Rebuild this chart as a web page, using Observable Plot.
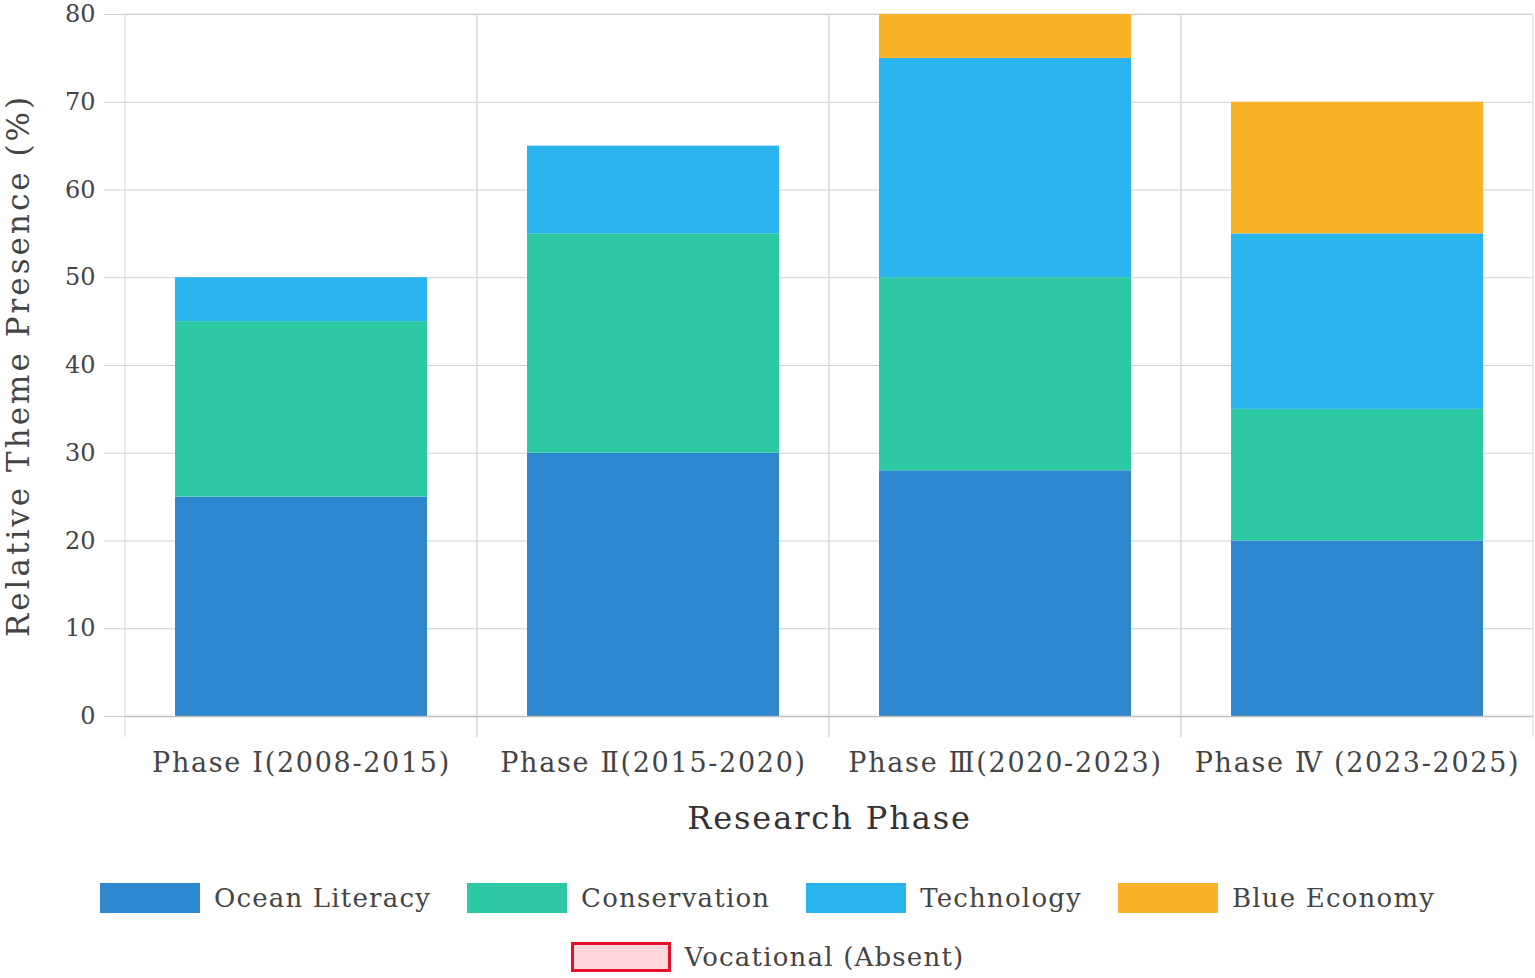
<!DOCTYPE html>
<html>
<head>
<meta charset="utf-8">
<script src="https://cdn.jsdelivr.net/npm/d3@7"></script>
<script src="https://cdn.jsdelivr.net/npm/@observablehq/plot@0.6"></script>
<style>
  body { margin: 0; background: #fff; font-family: "DejaVu Serif", serif; }
  #legend { display: flex; flex-direction: column; align-items: center; margin-top: 18px; }
  .row { display: flex; align-items: center; gap: 36px; height: 59px; }
  .item { display: flex; align-items: center; gap: 14px; font-size: 26px; color: #444; letter-spacing: 1.2px; }
  .sw { width: 100px; height: 30px; box-sizing: border-box; }
  g[aria-label="y-axis label"] text { letter-spacing: 3px; }
  g[aria-label="x-axis tick label"] text { letter-spacing: 1.7px; }
  g[aria-label="x-axis label"] text { letter-spacing: 1.9px; }
</style>
</head>
<body>
<div id="chart"></div>
<div id="legend"></div>
<script>
const phases = ["Phase Ⅰ(2008-2015)", "Phase Ⅱ(2015-2020)", "Phase Ⅲ(2020-2023)", "Phase Ⅳ (2023-2025)"];
const themes = ["Ocean Literacy", "Conservation", "Technology", "Blue Economy", "Vocational (Absent)"];
const oceanLiteracy = [25, 30, 28, 20];
const conservation = [20, 25, 22, 15];
const technology = [5, 10, 25, 20];
const blueEconomy = [0, 0, 5, 15];
const vocational = [0, 0, 0, 0];
const themeColors = ["#2d88d0", "#2dc9a5", "#2ab4ee", "#fbb22b", "#ffd6dc"];
const yTicks = [0, 10, 20, 30, 40, 50, 60, 70, 80];

const series = [oceanLiteracy, conservation, technology, blueEconomy, vocational];
const rows = [];
phases.forEach((p, i) => series.forEach((s, j) => rows.push({phase: p, theme: themes[j], value: s[i]})));

const font = "DejaVu Serif";
const chart = Plot.plot({
  width: 1535,
  height: 850,
  marginLeft: 125,
  marginRight: 2,
  marginTop: 14,
  marginBottom: 134,
  style: {fontFamily: font, background: "#fff"},
  x: {domain: phases, padding: 0},
  y: {domain: [0, 80]},
  color: {domain: themes, range: themeColors},
  marks: [
    Plot.gridY(yTicks, {stroke: "#cfcfcf", strokeOpacity: 1}),
    Plot.barY(phases, {x: d => d, y1: 0, y2: 80, insetBottom: -21, fill: "none", stroke: "#d6d6d6", strokeDasharray: "1075 352 723 0"}),
    Plot.barY(rows, Plot.stackY({x: "phase", y: "value", fill: "theme", insetLeft: 50, insetRight: 50, clip: true})),
    Plot.ruleY([0], {stroke: "#bdbdbd", strokeWidth: 1.5}),
    Plot.axisY(yTicks, {tickSize: 21, tickPadding: 9, stroke: "#cfcfcf", fill: "#444", fontSize: 24, label: null}),
    Plot.axisY({ticks: [], label: "Relative Theme Presence (%)", labelAnchor: "center", labelArrow: "none", labelOffset: 119, fontSize: 31, fill: "#444"}),
    Plot.axisX({tickSize: 0, tickPadding: 36, fill: "#444", fontSize: 27, label: null}),
    Plot.axisX({ticks: [], label: "Research Phase", labelAnchor: "center", labelArrow: "none", labelOffset: 112, fontSize: 32, fill: "#333"})
  ]
});
document.getElementById("chart").appendChild(chart);

const legend = document.getElementById("legend");
const groups = [themes.slice(0, 4), themes.slice(4)];
groups.forEach(g => {
  const row = document.createElement("div");
  row.className = "row";
  g.forEach(t => {
    const i = themes.indexOf(t);
    const item = document.createElement("div");
    item.className = "item";
    const sw = document.createElement("div");
    sw.className = "sw";
    sw.style.background = themeColors[i];
    if (t === "Vocational (Absent)") sw.style.border = "3px solid #e5102a";
    const lab = document.createElement("span");
    lab.textContent = t;
    item.appendChild(sw);
    item.appendChild(lab);
    row.appendChild(item);
  });
  legend.appendChild(row);
});
</script>
</body>
</html>
